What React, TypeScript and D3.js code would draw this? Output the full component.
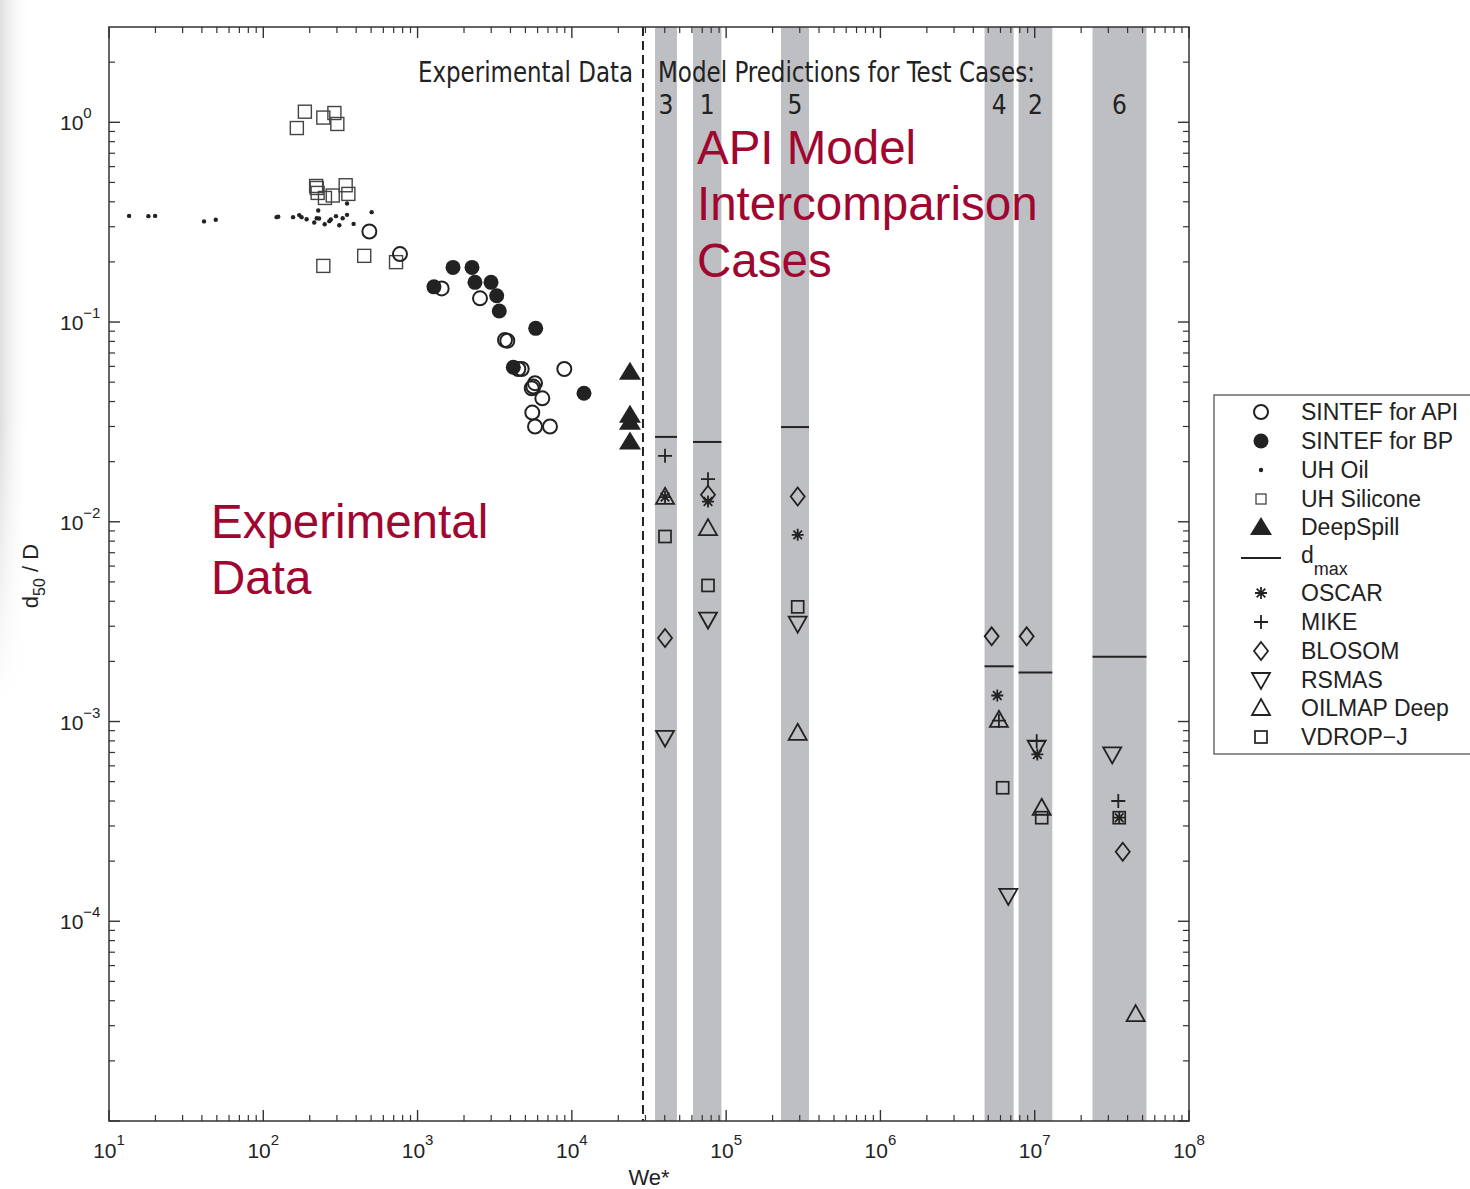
import * as d3 from "d3";

// ---- data ----
const weDomain = [10, 1e8];
const dDomain = [1e-5, 3];

// [We*, d50/D]
const uhOil = [
  [13.5, 0.34], [18.0, 0.339], [19.9, 0.34], [41.3, 0.319], [49.2, 0.325],
  [122, 0.335], [125, 0.337], [156, 0.335], [171, 0.343], [177, 0.335],
  [191, 0.327], [214, 0.315], [222, 0.331], [227, 0.362], [230, 0.33],
  [250, 0.309], [268, 0.32], [274, 0.326], [296, 0.339], [311, 0.305],
  [327, 0.331], [349, 0.344], [349, 0.392], [385, 0.31], [504, 0.355],
];
const uhSilicone = [
  [186, 1.13], [165, 0.936], [245, 1.056], [289, 1.113], [302, 0.981],
  [220, 0.48], [222, 0.469], [225, 0.443], [251, 0.418], [282, 0.43],
  [342, 0.484], [356, 0.438], [245, 0.191], [451, 0.2145], [725, 0.1995],
];
const sintefApi = [
  [487, 0.284], [769, 0.219], [1433, 0.1474], [2539, 0.1314], [3687, 0.0813],
  [3815, 0.0806], [4498, 0.0582], [4730, 0.0582], [8933, 0.0582], [5770, 0.0494],
  [5623, 0.0475], [5492, 0.0466], [6435, 0.0415], [5541, 0.0352], [5770, 0.03],
  [7216, 0.03],
];
const sintefBp = [
  [1697, 0.1877], [2253, 0.1877], [1277, 0.15], [2355, 0.158], [2992, 0.158],
  [3257, 0.1353], [3385, 0.1135], [5830, 0.093], [4173, 0.0594], [11985, 0.044],
];
const deepSpill = [[23800, 0.0564], [23800, 0.0343], [23800, 0.0317], [23800, 0.0252]];

const splitWe = 28900;

const caseLabels = ["3", "1", "5", "4", "2", "6"];
const caseBands = [
  [34600, 48000], [61000, 93200], [226800, 344400],
  [4.73e6, 7.3e6], [7.86e6, 1.3e7], [2.37e7, 5.3e7],
];
const caseDmax = [0.0266, 0.0251, 0.0298, 0.00189, 0.00176, 0.00211];

const oscar = [[40160, 0.0133], [76280, 0.01263], [290900, 0.0086], [5.72e6, 0.00135], [1.04e7, 0.000684], [3.53e7, 0.00033]];
const mike = [[40160, 0.0214], [76280, 0.01635], [5.86e6, 0.00101], [1.03e7, 0.000797], [3.48e7, 0.0004]];
const blosom = [[40160, 0.00262], [76280, 0.01365], [290900, 0.01338], [5.26e6, 0.00267], [8.87e6, 0.00267], [3.72e7, 0.000223]];
const rsmas = [[40160, 0.000829], [76280, 0.00324], [290900, 0.00309], [6.74e6, 0.000134], [1.03e7, 0.000739], [3.18e7, 0.000684]];
const oilmap = [[40160, 0.01334], [76280, 0.0093], [290900, 0.000878], [5.86e6, 0.00102], [1.11e7, 0.00037], [4.51e7, 3.43e-5]];
const vdrop = [[40160, 0.00844], [76280, 0.0048], [290900, 0.00375], [6.2e6, 0.000466], [1.11e7, 0.00033], [3.53e7, 0.00033]];

const legendLabels = [
  "SINTEF for API", "SINTEF for BP", "UH Oil", "UH Silicone", "DeepSpill", "dmax",
  "OSCAR", "MIKE", "BLOSOM", "RSMAS", "OILMAP Deep", "VDROP\u2212J",
];
const legendKinds = [
  "openCircle", "filledCircle", "dot", "smallSquare", "filledTriangle", "line",
  "star", "plus", "diamond", "down", "up", "square",
];

const xExps = [1, 2, 3, 4, 5, 6, 7, 8];
const yExps = [0, -1, -2, -3, -4];

const ink = "#222";
const crimson = "#a0062f";
const bandFill = "#bebfc3";

function Marker({ kind, cx, cy }) {
  switch (kind) {
    case "openCircle":
      return <circle cx={cx} cy={cy} r={7} fill="none" stroke={ink} strokeWidth={2} />;
    case "filledCircle":
      return <circle cx={cx} cy={cy} r={7.5} fill={ink} />;
    case "dot":
      return <circle cx={cx} cy={cy} r={2.2} fill={ink} />;
    case "square":
      return <rect x={cx - 6} y={cy - 6} width={12} height={12} fill="none" stroke={ink} strokeWidth={1.7} />;
    case "smallSquare":
      return <rect x={cx - 5} y={cy - 5} width={10} height={10} fill="none" stroke="#444" strokeWidth={1.3} />;
    case "siliconeSquare":
      return <rect x={cx - 6.5} y={cy - 6.5} width={13} height={13} fill="none" stroke="#444" strokeWidth={1.4} />;
    case "filledTriangle":
      return <path d={`M${cx},${cy - 10}L${cx + 11},${cy + 8}L${cx - 11},${cy + 8}Z`} fill={ink} />;
    case "up":
      return <path d={`M${cx},${cy - 9}L${cx + 9},${cy + 7}L${cx - 9},${cy + 7}Z`} fill="none" stroke={ink} strokeWidth={1.8} />;
    case "down":
      return <path d={`M${cx - 9},${cy - 7}L${cx + 9},${cy - 7}L${cx},${cy + 9}Z`} fill="none" stroke={ink} strokeWidth={1.8} />;
    case "diamond":
      return <path d={`M${cx},${cy - 9}L${cx + 7},${cy}L${cx},${cy + 9}L${cx - 7},${cy}Z`} fill="none" stroke={ink} strokeWidth={1.8} />;
    case "plus":
      return <path d={`M${cx - 7},${cy}H${cx + 7}M${cx},${cy - 7}V${cy + 7}`} stroke={ink} strokeWidth={1.8} />;
    case "star": {
      const s = 6, d = 4.3;
      return (
        <path
          d={`M${cx - s},${cy}H${cx + s}M${cx},${cy - s}V${cy + s}M${cx - d},${cy - d}L${cx + d},${cy + d}M${cx - d},${cy + d}L${cx + d},${cy - d}`}
          stroke={ink}
          strokeWidth={1.8}
        />
      );
    }
    case "line":
      return <line x1={cx - 20} x2={cx + 20} y1={cy} y2={cy} stroke={ink} strokeWidth={1.8} />;
    default:
      return null;
  }
}

export default function App() {
  const left = 109, right = 1189, top = 27, bottom = 1121;
  const x = d3.scaleLog().domain(weDomain).range([left, right]);
  const y = d3.scaleLog().domain(dDomain).range([bottom, top]);

  const xMinor = [];
  for (let e = 1; e < 8; e++) for (let m = 2; m <= 9; m++) xMinor.push(m * 10 ** e);
  const yMinor = [];
  for (let e = -5; e <= 0; e++)
    for (let m = 2; m <= 9; m++) if (m * 10 ** e < dDomain[1]) yMinor.push(m * 10 ** e);
  const yMajor = [-5, -4, -3, -2, -1, 0].map((e) => 10 ** e);

  const series = [
    { data: uhSilicone, kind: "siliconeSquare" },
    { data: uhOil, kind: "dot" },
    { data: sintefApi, kind: "openCircle" },
    { data: sintefBp, kind: "filledCircle" },
    { data: deepSpill, kind: "filledTriangle" },
    { data: oilmap, kind: "up" },
    { data: rsmas, kind: "down" },
    { data: blosom, kind: "diamond" },
    { data: vdrop, kind: "square" },
    { data: mike, kind: "plus" },
    { data: oscar, kind: "star" },
  ];

  const legendRows = [412, 441, 470, 499, 527, 558, 593, 622, 651, 680, 708, 737];
  const font = "'Liberation Sans', Arial, Helvetica, sans-serif";
  const narrow = "'Liberation Sans Narrow', 'DejaVu Sans Condensed', 'Liberation Sans', sans-serif";

  return (
    <svg
      width={1470}
      height={1189}
      style={{ position: "absolute", left: 0, top: 0, background: "#fff" }}
      fontFamily={font}
    >
      <defs>
        <linearGradient id="edge" x1="0" x2="1" y1="0" y2="0">
          <stop offset="0" stopColor="#dedede" />
          <stop offset="1" stopColor="#ffffff" stopOpacity={0} />
        </linearGradient>
        <linearGradient id="fadeDown" x1="0" x2="0" y1="0" y2="1">
          <stop offset="0" stopColor="#fff" />
          <stop offset="0.6" stopColor="#fff" />
          <stop offset="1" stopColor="#000" />
        </linearGradient>
        <mask id="edgeMask">
          <rect x={0} y={0} width={30} height={700} fill="url(#fadeDown)" />
        </mask>
      </defs>
      <rect x={0} y={0} width={30} height={700} fill="url(#edge)" mask="url(#edgeMask)" />

      {/* case bands */}
      {caseBands.map(([lo, hi], i) => (
        <rect key={i} x={x(lo)} y={top} width={x(hi) - x(lo)} height={bottom - top} fill={bandFill} />
      ))}
      {caseBands.map(([lo, hi], i) => (
        <line key={"dm" + i} x1={x(lo)} x2={x(hi)} y1={y(caseDmax[i])} y2={y(caseDmax[i])} stroke={ink} strokeWidth={2} />
      ))}

      {/* split line */}
      <line x1={x(splitWe)} x2={x(splitWe)} y1={top} y2={bottom} stroke={ink} strokeWidth={2} strokeDasharray="9,5" />

      {/* markers */}
      {series.map((s, si) => (
        <g key={si}>
          {s.data.map(([we, d], i) => (
            <Marker key={i} kind={s.kind} cx={x(we)} cy={y(d)} />
          ))}
        </g>
      ))}

      {/* frame */}
      <rect x={left} y={top} width={right - left} height={bottom - top} fill="none" stroke="#333" strokeWidth={1.5} />

      {/* x ticks */}
      {xExps.map((e) => (
        <g key={"xM" + e}>
          <line x1={x(10 ** e)} x2={x(10 ** e)} y1={bottom} y2={bottom - 11} stroke="#333" strokeWidth={1.4} />
          <line x1={x(10 ** e)} x2={x(10 ** e)} y1={top} y2={top + 11} stroke="#333" strokeWidth={1.4} />
        </g>
      ))}
      {xMinor.map((v, i) => (
        <g key={"xm" + i}>
          <line x1={x(v)} x2={x(v)} y1={bottom} y2={bottom - 6} stroke="#333" strokeWidth={1.2} />
          <line x1={x(v)} x2={x(v)} y1={top} y2={top + 6} stroke="#333" strokeWidth={1.2} />
        </g>
      ))}
      {/* y ticks */}
      {yMajor.map((v, i) => (
        <g key={"yM" + i}>
          <line x1={left} x2={left + 11} y1={y(v)} y2={y(v)} stroke="#333" strokeWidth={1.4} />
          <line x1={right} x2={right - 11} y1={y(v)} y2={y(v)} stroke="#333" strokeWidth={1.4} />
        </g>
      ))}
      {yMinor.map((v, i) => (
        <g key={"ym" + i}>
          <line x1={left} x2={left + 6} y1={y(v)} y2={y(v)} stroke="#333" strokeWidth={1.2} />
          <line x1={right} x2={right - 6} y1={y(v)} y2={y(v)} stroke="#333" strokeWidth={1.2} />
        </g>
      ))}

      {/* tick labels */}
      {xExps.map((e) => (
        <text key={"xl" + e} x={x(10 ** e)} y={1158} textAnchor="middle" fontSize={21} fill={ink}>
          10<tspan dy={-13} fontSize={15}>{e}</tspan>
        </text>
      ))}
      {yExps.map((e) => (
        <text key={"yl" + e} x={60} y={y(10 ** e) + 8} fontSize={21} fill={ink}>
          10<tspan dy={-12} fontSize={15}>{e < 0 ? "\u2212" + -e : e}</tspan>
        </text>
      ))}

      {/* axis titles */}
      <text x={649} y={1185} textAnchor="middle" fontSize={22} fill={ink}>We*</text>
      <text transform="translate(38,576) rotate(-90)" textAnchor="middle" fontSize={22} fill={ink}>
        d<tspan dy={7} fontSize={16}>50</tspan><tspan dy={-7}> / D</tspan>
      </text>

      {/* headings */}
      <text x={418} y={82} fontFamily={narrow} fontSize={29} fill={ink} textLength={215} lengthAdjust="spacingAndGlyphs">
        Experimental Data
      </text>
      <text x={658} y={82} fontFamily={narrow} fontSize={29} fill={ink} textLength={377} lengthAdjust="spacingAndGlyphs">
        Model Predictions for Test Cases:
      </text>
      {caseBands.map(([lo, hi], i) => (
        <text key={"cl" + i} x={x(Math.sqrt(lo * hi))} y={114} textAnchor="middle" fontFamily={narrow} fontSize={26} fill={ink}>
          {caseLabels[i]}
        </text>
      ))}

      {/* annotations */}
      <text fontSize={47.5} fill={crimson}>
        <tspan x={697} y={164}>API Model</tspan>
        <tspan x={697} y={220}>Intercomparison</tspan>
        <tspan x={697} y={277}>Cases</tspan>
      </text>
      <text fontSize={47.5} fill={crimson}>
        <tspan x={211} y={538}>Experimental</tspan>
        <tspan x={211} y={594}>Data</tspan>
      </text>

      {/* legend */}
      <rect x={1214} y={395} width={300} height={359} fill="#fff" stroke="#555" strokeWidth={1.3} />
      {legendLabels.map((label, i) => (
        <g key={"lg" + i}>
          <Marker kind={legendKinds[i]} cx={1261} cy={legendRows[i]} />
          {label === "dmax" ? (
            <text x={1301} y={legendRows[i] + 5} fontSize={23} fill={ink}>
              d<tspan dy={12} fontSize={18}>max</tspan>
            </text>
          ) : (
            <text x={1301} y={legendRows[i] + 8} fontSize={23} fill={ink}>
              {label}
            </text>
          )}
        </g>
      ))}
    </svg>
  );
}
